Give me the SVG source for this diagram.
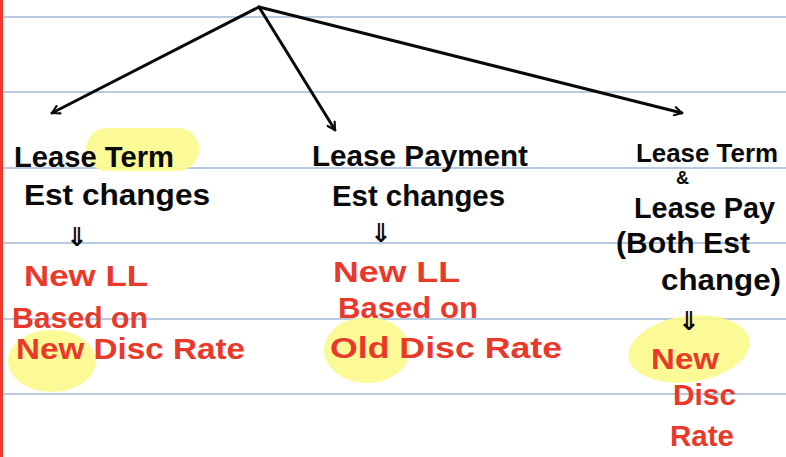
<svg xmlns="http://www.w3.org/2000/svg" width="786" height="457" viewBox="0 0 786 457">
<defs>
<style>
.rule{stroke:#b9c9df;stroke-width:2}
.hl{fill:#fbf98c;opacity:0.9}
.bk{font-family:"Liberation Sans",Arial,sans-serif;font-size:30px;fill:#0a0a0a;font-weight:bold}
.rd{font-family:"Liberation Sans",Arial,sans-serif;font-size:29px;fill:#e8392a;font-weight:bold}
.ar{font-family:"DejaVu Sans",sans-serif;font-size:26px;fill:#0a0a0a;font-weight:bold}
.conn{stroke:#0a0a0a;stroke-width:3;fill:none;stroke-linecap:round}
</style>
<marker id="chev" viewBox="0 0 10 10" refX="9" refY="5" markerWidth="3.5" markerHeight="3.5" orient="auto" markerUnits="strokeWidth">
<path d="M2,1 L9,5 L2,9" fill="none" stroke="#0a0a0a" stroke-width="2" stroke-linecap="round" stroke-linejoin="round"/>
</marker>
</defs>
<rect width="786" height="457" fill="#ffffff"/>
<g id="paper">
<line class="rule" x1="0" y1="17" x2="786" y2="17"/>
<line class="rule" x1="0" y1="92" x2="786" y2="92"/>
<line class="rule" x1="0" y1="168" x2="786" y2="168"/>
<line class="rule" x1="0" y1="243" x2="786" y2="243"/>
<line class="rule" x1="0" y1="319" x2="786" y2="319"/>
<line class="rule" x1="0" y1="394" x2="786" y2="394"/>
<line x1="1.5" y1="0" x2="1.5" y2="457" stroke="#ee3a2c" stroke-width="3"/>
</g>
<g id="highlights">
<rect class="hl" x="86" y="128" width="113" height="43" rx="21"/>
<ellipse class="hl" cx="52" cy="361" rx="44" ry="31"/>
<ellipse class="hl" cx="367" cy="350" rx="43" ry="33"/>
<ellipse class="hl" cx="689" cy="349" rx="61" ry="33" transform="rotate(-8 689 349)"/>
</g>
<g id="connectors">
<line class="conn" x1="259" y1="7" x2="52" y2="113" marker-end="url(#chev)"/>
<line class="conn" x1="259" y1="7" x2="335" y2="130" marker-end="url(#chev)"/>
<line class="conn" x1="259" y1="7" x2="682" y2="113" marker-end="url(#chev)"/>
</g>
<g id="node-term">
<text class="bk" x="14" y="167" textLength="160" lengthAdjust="spacingAndGlyphs">Lease Term</text>
<text class="bk" x="24" y="205" textLength="186" lengthAdjust="spacingAndGlyphs">Est changes</text>
<text class="ar" x="66" y="246">⇓</text>
<text class="rd" x="24" y="286" textLength="124" lengthAdjust="spacingAndGlyphs">New LL</text>
<text class="rd" x="12" y="328" textLength="136" lengthAdjust="spacingAndGlyphs">Based on</text>
<text class="rd" x="16" y="359" textLength="229" lengthAdjust="spacingAndGlyphs">New Disc Rate</text>
</g>
<g id="node-payment">
<text class="bk" x="312" y="166" textLength="216" lengthAdjust="spacingAndGlyphs">Lease Payment</text>
<text class="bk" x="332" y="206" textLength="173" lengthAdjust="spacingAndGlyphs">Est changes</text>
<text class="ar" x="370" y="242">⇓</text>
<text class="rd" x="333" y="282" textLength="127" lengthAdjust="spacingAndGlyphs">New LL</text>
<text class="rd" x="338" y="318" textLength="140" lengthAdjust="spacingAndGlyphs">Based on</text>
<text class="rd" x="330" y="358" textLength="232" lengthAdjust="spacingAndGlyphs">Old Disc Rate</text>
</g>
<g id="node-both">
<text class="bk" x="636" y="162" style="font-size:25px" textLength="142" lengthAdjust="spacingAndGlyphs">Lease Term</text>
<text class="bk" x="676" y="184" style="font-size:18px">&amp;</text>
<text class="bk" x="634" y="218" textLength="141" lengthAdjust="spacingAndGlyphs">Lease Pay</text>
<text class="bk" x="616" y="253" textLength="134" lengthAdjust="spacingAndGlyphs">(Both Est</text>
<text class="bk" x="661" y="290" textLength="120" lengthAdjust="spacingAndGlyphs">change)</text>
<text class="ar" x="678" y="330">⇓</text>
<text class="rd" x="651" y="369" textLength="68" lengthAdjust="spacingAndGlyphs">New</text>
<text class="rd" x="673" y="405" textLength="63" lengthAdjust="spacingAndGlyphs">Disc</text>
<text class="rd" x="670" y="446" textLength="64" lengthAdjust="spacingAndGlyphs">Rate</text>
</g>
</svg>
